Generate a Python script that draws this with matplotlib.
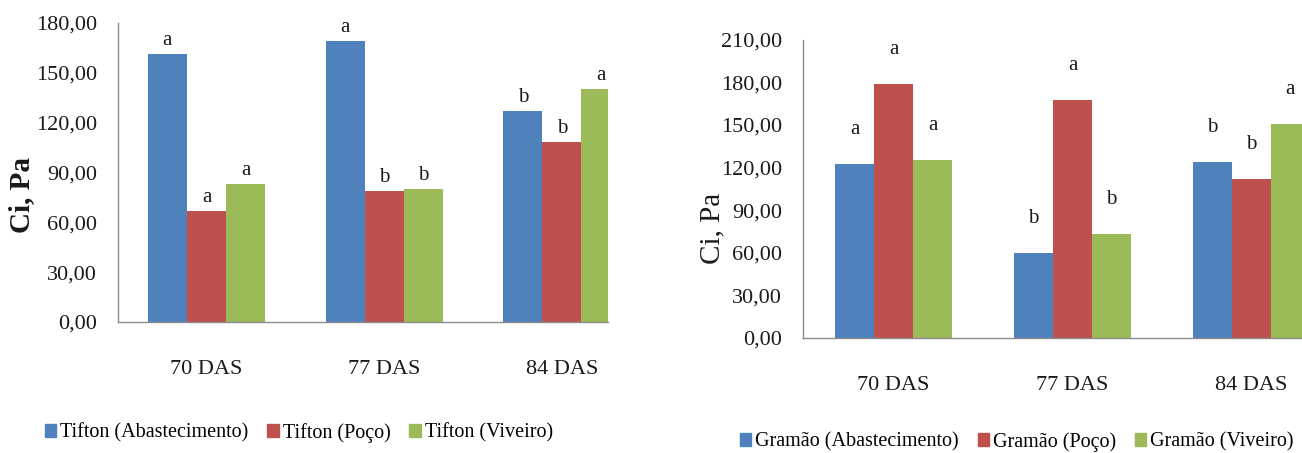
import numpy as np
import matplotlib
matplotlib.use("Agg")
import matplotlib.pyplot as plt
from matplotlib.patches import Patch

plt.rcParams['font.family'] = ['Liberation Serif', 'DejaVu Serif']

# Data
categories = ["70 DAS", "77 DAS", "84 DAS"]

tifton_names = ["Tifton (Abastecimento)", "Tifton (Poço)", "Tifton (Viveiro)"]
tifton_abast = [161.1, 169.4, 127.3]
tifton_poco = [67.1, 78.9, 108.1]
tifton_viveiro = [82.8, 80.3, 140.3]
tifton_letters = [["a", "a", "b"], ["a", "b", "b"], ["a", "b", "a"]]

gramao_names = ["Gramão (Abastecimento)", "Gramão (Poço)", "Gramão (Viveiro)"]
gramao_abast = [122.5, 59.6, 123.7]
gramao_poco = [179.0, 167.8, 112.0]
gramao_viveiro = [125.4, 73.2, 150.5]
gramao_letters = [["a", "b", "b"], ["a", "a", "b"], ["a", "b", "a"]]

tifton_yticks = [0, 30, 60, 90, 120, 150, 180]
gramao_yticks = [0, 30, 60, 90, 120, 150, 180, 210]

colors = ["#4F81BD", "#C0504D", "#9BBB59"]
axis_color = "#8C8C8C"

W, H = 1302, 453
fig = plt.figure(figsize=(W / 100, H / 100), dpi=100)


def frac(x0, y_top, x1, y_bottom):
    return [x0 / W, 1 - y_bottom / H, (x1 - x0) / W, (y_bottom - y_top) / H]


def draw_panel(ax, series, letters, yticks, xlim, width, label_offset):
    x = np.arange(len(categories))
    for i, vals in enumerate(series):
        pos = x + (i - 1) * width
        ax.bar(pos, vals, width=width, color=colors[i], linewidth=0, zorder=2)
        for p, v, t in zip(pos, vals, letters[i]):
            ax.annotate(t, xy=(p, v), xytext=(0, label_offset),
                        textcoords="offset points", ha="center", va="baseline",
                        fontsize=15, color="#1a1a1a", annotation_clip=False)
    ax.set_xlim(*xlim)
    ax.set_ylim(yticks[0], yticks[-1])
    ax.set_yticks(yticks)
    ax.set_yticklabels([f"{v},00" for v in yticks])
    ax.set_xticks(x)
    ax.set_xticklabels(categories)
    ax.tick_params(axis="both", length=0, labelsize=16, colors="#1a1a1a")
    ax.tick_params(axis="y", pad=15)
    ax.tick_params(axis="x", pad=27)
    for s in ("top", "right"):
        ax.spines[s].set_visible(False)
    for s in ("left", "bottom"):
        ax.spines[s].set_color(axis_color)
        ax.spines[s].set_linewidth(1.0)
    ax.patch.set_alpha(0)


ax1 = fig.add_axes(frac(118, 23, 608, 322))
draw_panel(ax1, [tifton_abast, tifton_poco, tifton_viveiro], tifton_letters,
           tifton_yticks, (-0.498, 2.26), 0.22, 6.5)

ax2 = fig.add_axes(frac(803, 39.6, 1302, 338))
draw_panel(ax2, [gramao_abast, gramao_poco, gramao_viveiro], gramao_letters,
           gramao_yticks, (-0.506, 2.283), 0.218, 21.5)

fig.text(22 / W, 1 - 195 / H, "Ci, Pa", rotation=90, ha="center", va="center",
         fontsize=21, fontweight="bold", color="#1a1a1a")
fig.text(712 / W, 1 - 228 / H, "Ci, Pa", rotation=90, ha="center", va="center",
         fontsize=21, color="#1a1a1a")

legend_kw = dict(ncol=3, frameon=False, fontsize=14.5, handlelength=0.55,
                 handleheight=0.6, handletextpad=0.2, columnspacing=0.95,
                 borderpad=0, borderaxespad=0, loc="center left")

fig.legend([Patch(color=c) for c in colors], tifton_names,
           bbox_to_anchor=(45 / W, 1 - 433 / H), **legend_kw)
fig.legend([Patch(color=c) for c in colors], gramao_names,
           bbox_to_anchor=(740 / W, 1 - 442 / H), **legend_kw)

fig.savefig("out.png", dpi=100)
